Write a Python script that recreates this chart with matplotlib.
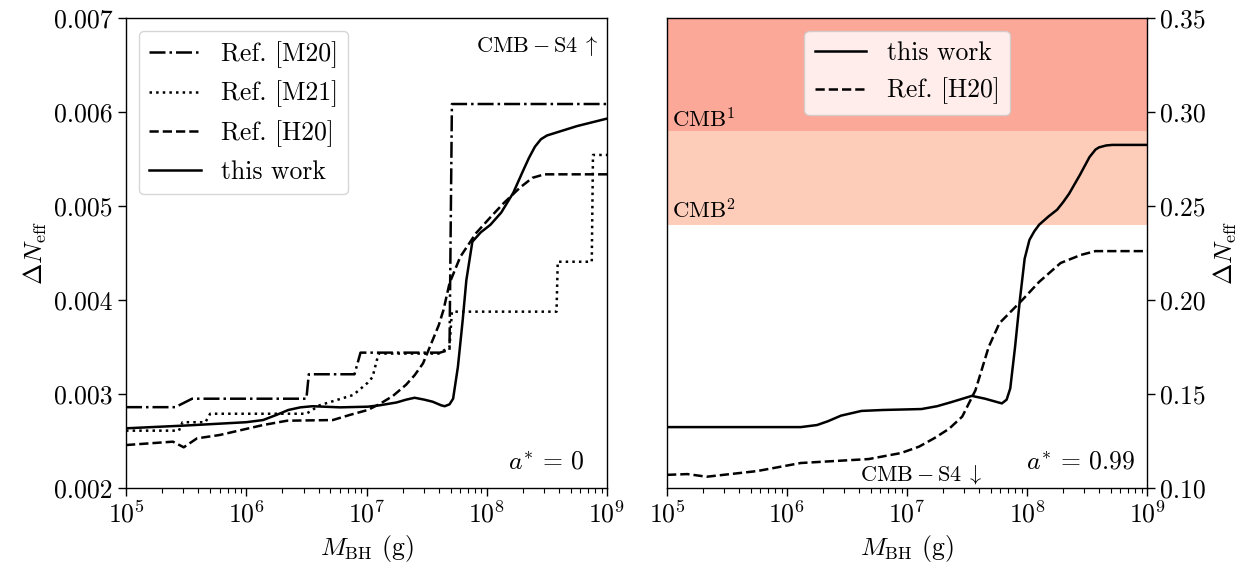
import numpy as np
import matplotlib
matplotlib.use("Agg")
import matplotlib.pyplot as plt
from matplotlib.ticker import FormatStrFormatter, LogLocator, NullFormatter
import matplotlib.transforms as mtransforms

plt.rcParams['font.family'] = ['cmr10']
plt.rcParams['mathtext.fontset'] = 'cm'
plt.rcParams['axes.formatter.use_mathtext'] = True
plt.rcParams['font.size'] = 18.5

# ---------------- data (log10 M_BH [g], Delta N_eff) ----------------
# left panel, a* = 0
m20_logm = [5.0, 5.41, 5.55, 6.50, 6.52, 6.90, 6.95, 7.61, 7.69, 7.71, 9.0]
m20_val = [0.00286, 0.00286, 0.00295, 0.00295, 0.00321, 0.00321, 0.00344, 0.00344, 0.00347, 0.006085, 0.006085]

m21_logm = [5.0, 5.44, 5.47, 5.66, 5.70, 6.50, 6.61, 6.89, 7.01, 7.05, 7.10, 7.60, 7.69, 7.71,
            8.58, 8.59, 8.873, 8.883, 9.0]
m21_val = [0.00261, 0.00261, 0.00270, 0.00270, 0.00279, 0.00279, 0.00288, 0.00299, 0.00312, 0.00318,
           0.00343, 0.00343, 0.00350, 0.003876, 0.003876, 0.004407, 0.004407, 0.005543, 0.005543]

h20_logm = [5.0, 5.39, 5.48, 5.59, 5.78, 6.14, 6.34, 6.72, 6.86, 7.01, 7.11, 7.22, 7.33, 7.40, 7.47,
            7.55, 7.60, 7.64, 7.69, 7.78, 7.91, 8.03, 8.14, 8.28, 8.38, 8.48, 9.0]
h20_val = [0.002457, 0.002493, 0.002433, 0.002528, 0.002564, 0.00267, 0.002716, 0.002723, 0.002777,
           0.00283, 0.002894, 0.00298, 0.00310, 0.00320, 0.003326, 0.003574, 0.00373, 0.003894,
           0.004178, 0.00446, 0.00471, 0.00488, 0.00503, 0.00520, 0.00530, 0.005337, 0.005337]

tw_logm = [5.0, 5.5, 6.0, 6.14, 6.25, 6.35, 6.45, 6.55, 6.78, 7.01, 7.11, 7.25, 7.33, 7.40, 7.48,
           7.55, 7.62, 7.65, 7.69, 7.72, 7.76, 7.80, 7.83, 7.88, 7.95, 8.03, 8.12, 8.22, 8.30, 8.35,
           8.40, 8.45, 8.50, 8.60, 8.75, 9.0]
tw_val = [0.002635, 0.002665, 0.002700, 0.002723, 0.002777, 0.002830, 0.002858, 0.00287, 0.002858,
          0.002865, 0.00288, 0.00291, 0.00294, 0.00296, 0.00294, 0.002918, 0.00288, 0.00287, 0.00289,
          0.00295, 0.00329, 0.00379, 0.00421, 0.00462, 0.00472, 0.00480, 0.00493, 0.00514, 0.00537,
          0.00551, 0.00563, 0.00571, 0.00575, 0.00579, 0.00585, 0.00593]

# right panel, a* = 0.99
tw2_logm = [5.0, 5.5, 6.115, 6.25, 6.34, 6.45, 6.62, 6.8, 7.12, 7.25, 7.37, 7.54, 7.65, 7.79, 7.83,
            7.86, 7.90, 7.94, 7.98, 8.02, 8.06, 8.10, 8.18, 8.25, 8.30, 8.35, 8.44, 8.52, 8.57,
            8.60, 8.66, 8.71, 9.0]
tw2_val = [0.1324, 0.1324, 0.1324, 0.1335, 0.1355, 0.1385, 0.1410, 0.1415, 0.1420, 0.1435, 0.1457,
           0.1490, 0.1475, 0.1450, 0.1470, 0.1530, 0.1750, 0.2000, 0.2220, 0.2320, 0.2365, 0.2400,
           0.2445, 0.2480, 0.2520, 0.2565, 0.2665, 0.2760, 0.2800, 0.2812, 0.2822, 0.2825, 0.2825]

h20b_logm = [5.0, 5.17, 5.33, 5.75, 6.115, 6.68, 6.95, 7.10, 7.23, 7.35, 7.46, 7.57, 7.68, 7.77,
             7.96, 8.10, 8.28, 8.45, 8.57, 9.0]
h20b_val = [0.1070, 0.1074, 0.1060, 0.1090, 0.1133, 0.1154, 0.1186, 0.1220, 0.1266, 0.1315, 0.1380,
            0.1520, 0.1750, 0.1877, 0.2000, 0.2096, 0.2197, 0.2240, 0.2260, 0.2260]

cmb1_band = (0.29, 0.35)
cmb2_band = (0.24, 0.29)

# ---------------- figure ----------------
fig = plt.figure(figsize=(12.55, 5.66), dpi=100)
ax1 = fig.add_axes([0.1004, 0.1378, 0.3833, 0.8304])
ax2 = fig.add_axes([0.5315, 0.1378, 0.3825, 0.8304])

lw = 1.8
ax1.plot(10 ** np.array(m20_logm), m20_val, 'k-.', lw=lw, label='Ref. [M20]')
ax1.plot(10 ** np.array(m21_logm), m21_val, 'k:', lw=lw, label='Ref. [M21]')
ax1.plot(10 ** np.array(h20_logm), h20_val, 'k--', lw=lw, label='Ref. [H20]')
ax1.plot(10 ** np.array(tw_logm), tw_val, 'k-', lw=lw, label='this work')

ax2.axhspan(*cmb1_band, color='#fca898', lw=0, zorder=0)
ax2.axhspan(*cmb2_band, color='#fdcdb9', lw=0, zorder=0)
ax2.plot(10 ** np.array(tw2_logm), tw2_val, 'k-', lw=lw, label='this work')
ax2.plot(10 ** np.array(h20b_logm), h20b_val, 'k--', lw=lw, label='Ref. [H20]')

for ax in (ax1, ax2):
    ax.set_xscale('log')
    ax.set_xlim(1e5, 1e9)
    ax.xaxis.set_major_locator(LogLocator(base=10, numticks=10))
    ax.xaxis.set_minor_locator(LogLocator(base=10, subs=np.arange(2, 10), numticks=100))
    ax.xaxis.set_minor_formatter(NullFormatter())
    ax.tick_params(which='major', direction='out', length=6, width=1.0, labelsize=18.5)
    ax.tick_params(which='minor', direction='out', length=3.5, width=0.8)
    ax.set_xlabel(r'$M_{\rm BH}$ (g)', fontsize=18.5)
    for s in ax.spines.values():
        s.set_linewidth(1.0)

ax1.set_ylim(0.002, 0.007)
ax1.set_yticks([0.002, 0.003, 0.004, 0.005, 0.006, 0.007])
ax1.yaxis.set_major_formatter(FormatStrFormatter('%.3f'))
ax1.set_ylabel(r'$\Delta N_{\rm eff}$', fontsize=18.5)

ax2.set_ylim(0.10, 0.35)
ax2.set_yticks([0.10, 0.15, 0.20, 0.25, 0.30, 0.35])
ax2.yaxis.set_major_formatter(FormatStrFormatter('%.2f'))
ax2.yaxis.tick_right()
ax2.yaxis.set_label_position('right')
ax2.set_ylabel(r'$\Delta N_{\rm eff}$', fontsize=18.5)

ax1.legend(loc='upper left', fontsize=18.5, handlelength=2.0)
ax2.legend(loc='upper center', fontsize=18.5, handlelength=2.0)

ax1.text(0.982, 0.965, r'$\mathrm{CMB}-\mathrm{S4}\;\uparrow$', transform=ax1.transAxes,
         ha='right', va='top', fontsize=16)
ax1.text(0.952, 0.028, r'$a^{*}\,=\,0$', transform=ax1.transAxes, ha='right', va='bottom', fontsize=18.5)

ax2.text(0.975, 0.028, r'$a^{*}\,=\,0.99$', transform=ax2.transAxes, ha='right', va='bottom', fontsize=18.5)
ax2.text(0.53, 0.005, r'$\mathrm{CMB}-\mathrm{S4}\;\downarrow$', transform=ax2.transAxes,
         ha='center', va='bottom', fontsize=16)
trans = mtransforms.blended_transform_factory(ax2.transAxes, ax2.transData)
ax2.text(0.01, 0.2917, r'$\mathrm{CMB}^1$', transform=trans, ha='left', va='baseline', fontsize=16.5)
ax2.text(0.01, 0.2436, r'$\mathrm{CMB}^2$', transform=trans, ha='left', va='baseline', fontsize=16.5)

fig.savefig('out.png', dpi=100)
